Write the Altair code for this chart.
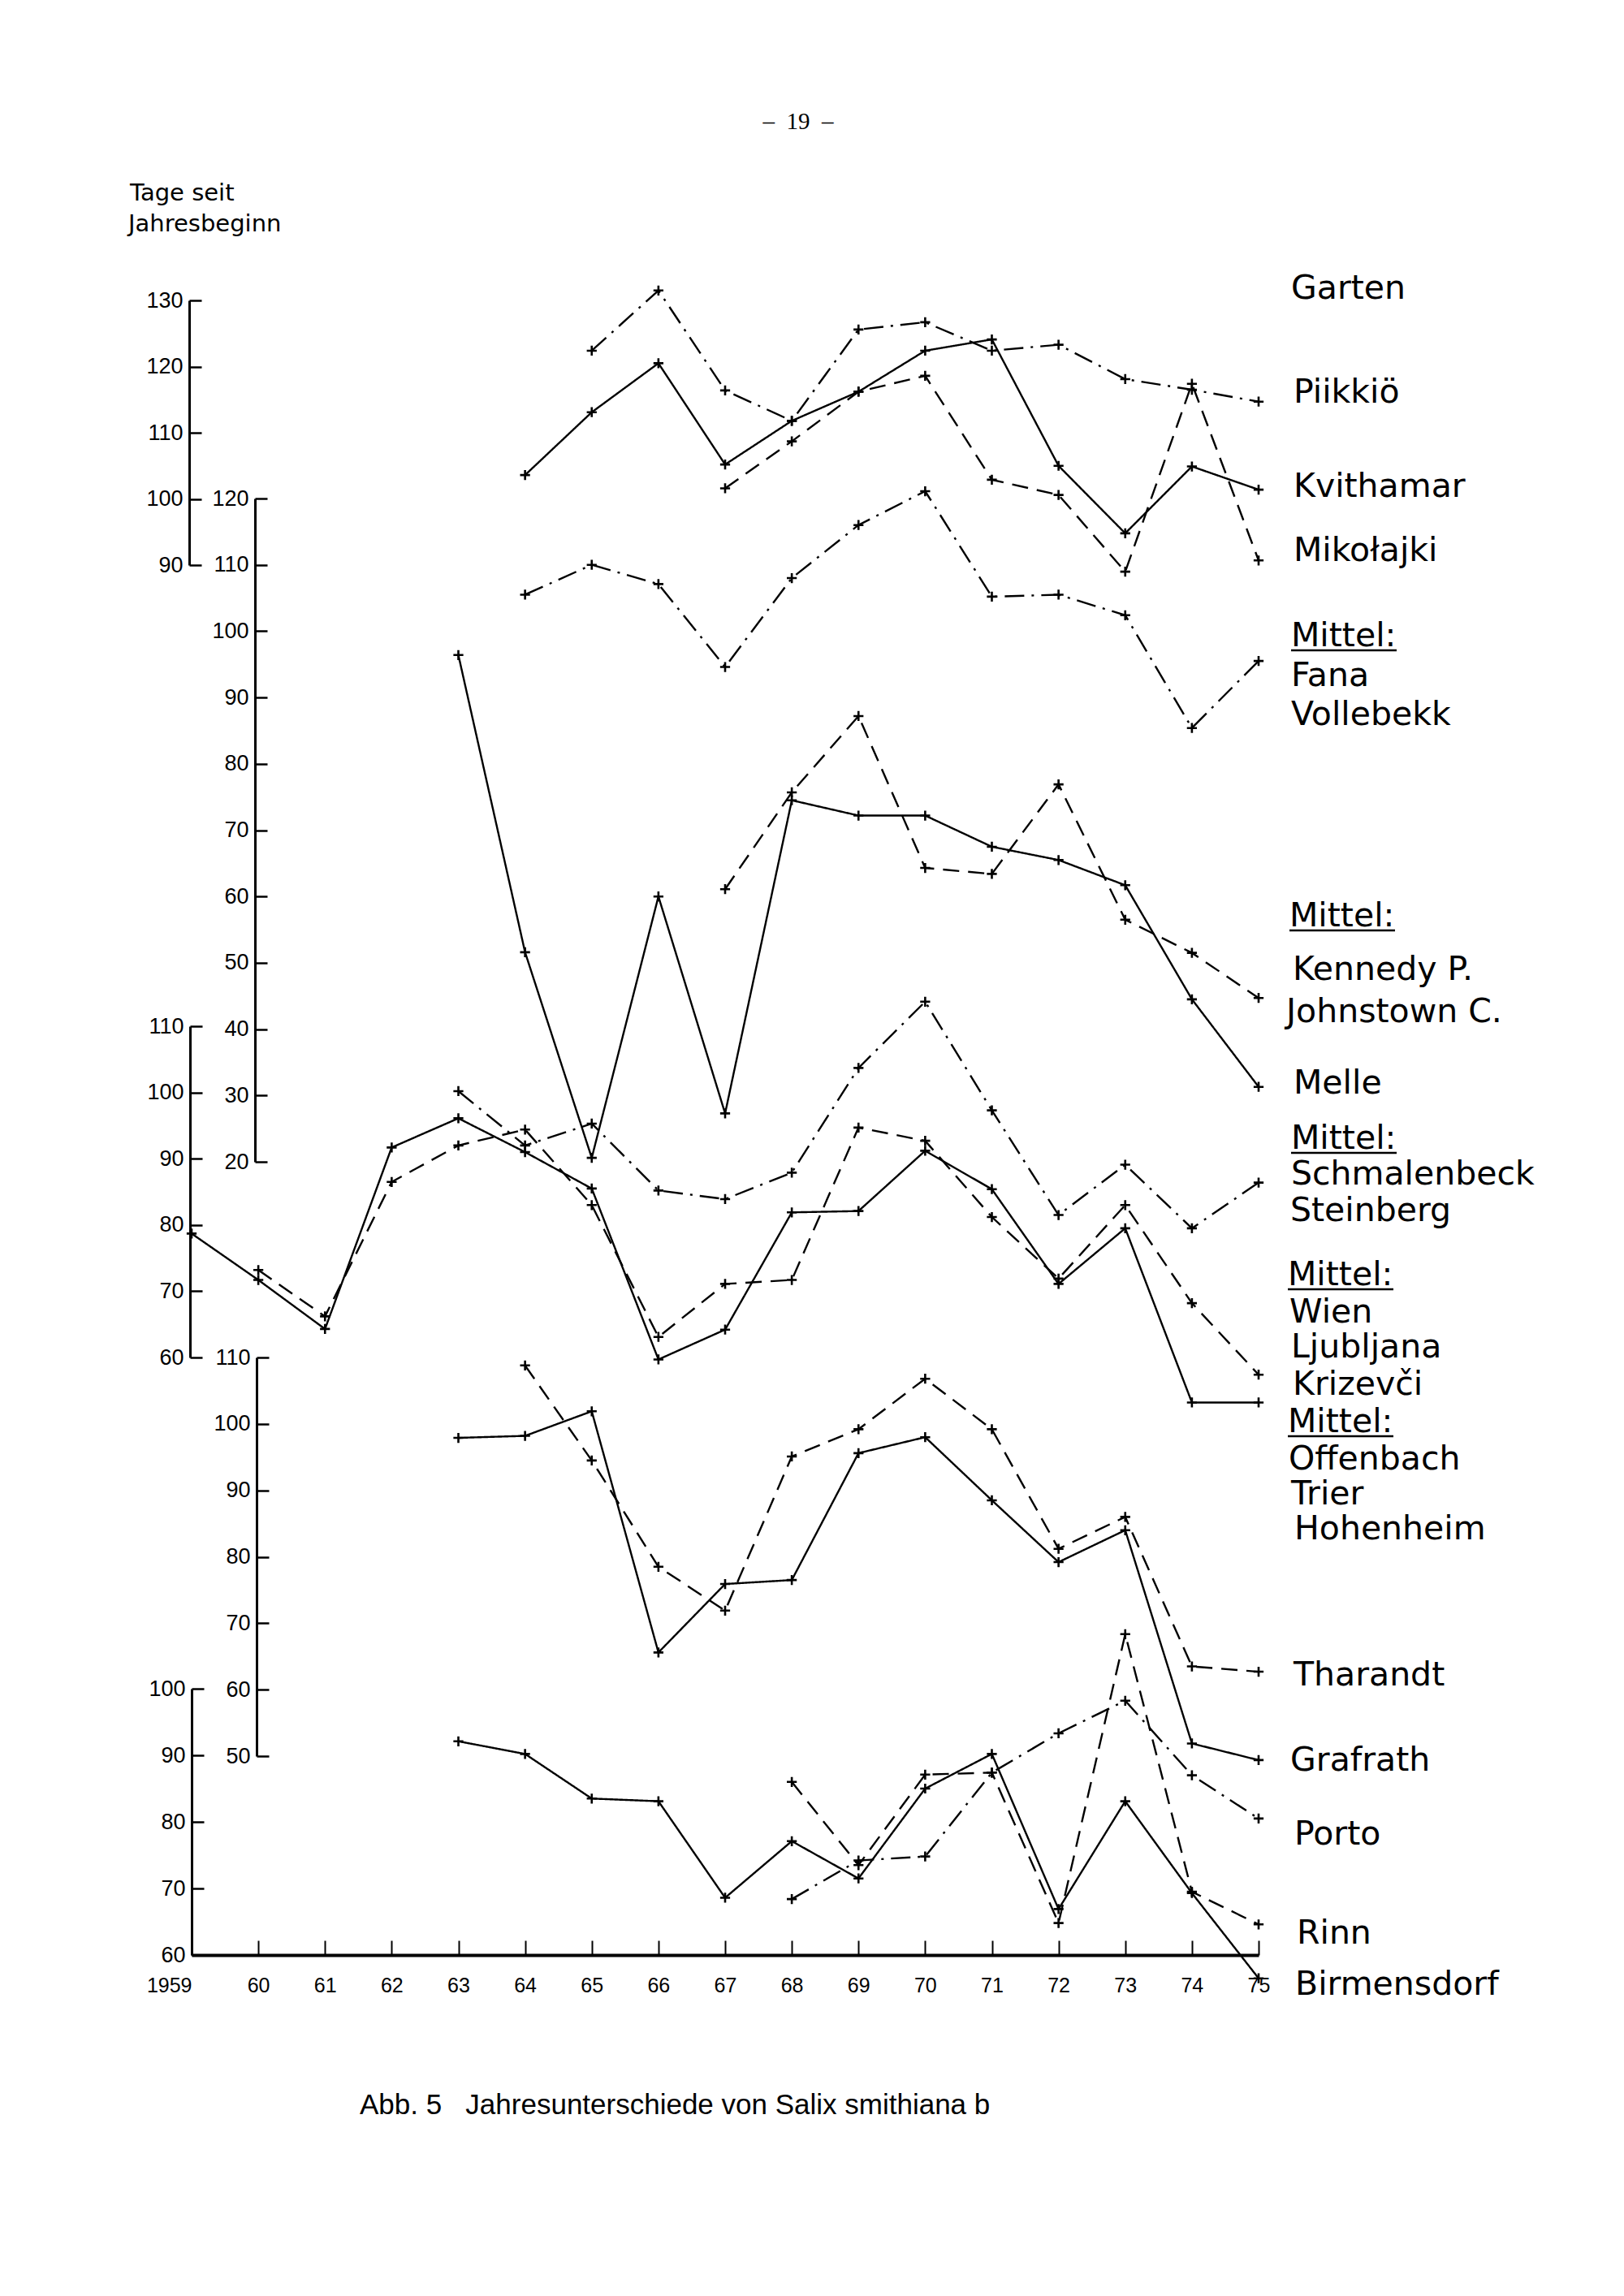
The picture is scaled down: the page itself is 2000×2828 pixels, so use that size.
import altair as alt
import pandas as pd

# ---------------- data (Tage seit Jahresbeginn) ----------------
# Panel A  (axis 90-130)
garten_years = list(range(1965, 1976))
garten_vals = [122.4, 131.5, 116.4, 111.8, 125.6, 126.7, 122.4, 123.3, 118.1, 116.5, 114.7]
kvithamar_years = list(range(1964, 1976))
kvithamar_vals = [103.6, 113.1, 120.5, 105.2, 111.8, 116.2, 122.4, 124.1, 105.0, 94.8, 104.9, 101.4]
mikolajki_years = list(range(1967, 1976))
mikolajki_vals = [101.6, 108.7, 116.2, 118.6, 102.9, 100.6, 89.0, 117.4, 90.7]

# Panel B  (axis 20-120)
fana_years = list(range(1964, 1976))
fana_vals = [105.5, 110.0, 107.1, 94.6, 108.0, 116.0, 121.1, 105.2, 105.5, 102.4, 85.4, 95.5]
melle_years = list(range(1963, 1976))
melle_vals = [96.4, 51.6, 20.6, 60.0, 27.3, 74.5, 72.2, 72.2, 67.5, 65.5, 61.7, 44.5, 31.3]
kennedy_years = list(range(1967, 1976))
kennedy_vals = [61.1, 75.7, 87.2, 64.3, 63.4, 76.9, 56.5, 51.5, 44.7]

# Panel C  (axis 60-110)
schmal_years = list(range(1963, 1976))
schmal_vals = [100.2, 92.0, 95.3, 85.2, 83.9, 87.9, 103.7, 113.7, 97.3, 81.5, 89.1, 79.5, 86.4]
wien_years = list(range(1960, 1976))
wien_vals = [73.2, 66.2, 86.5, 92.0, 94.4, 83.0, 63.1, 71.1, 71.7, 94.7, 92.7, 81.2, 71.9, 83.0, 68.2, 57.4]
offen_years = list(range(1959, 1976))
offen_vals = [78.7, 71.7, 64.3, 91.7, 96.1, 91.0, 85.5, 59.7, 64.2, 81.9, 82.1, 91.2, 85.4, 71.1, 79.5, 53.2, 53.2]

# Panel D  (axis 50-110)
tharandt_years = list(range(1964, 1976))
tharandt_vals = [108.8, 94.5, 78.5, 71.9, 95.1, 99.2, 106.8, 99.2, 81.2, 86.0, 63.5, 62.7]
grafrath_years = list(range(1963, 1976))
grafrath_vals = [97.9, 98.2, 101.9, 65.6, 75.9, 76.5, 95.6, 98.0, 88.5, 79.2, 84.0, 51.9, 49.4]

# Panel E  (axis 60-100)
porto_years = list(range(1968, 1976))
porto_vals = [68.4, 74.2, 74.8, 87.4, 93.3, 98.2, 87.0, 80.5]
rinn_years = list(range(1968, 1976))
rinn_vals = [86.0, 73.5, 87.1, 87.4, 64.8, 108.2, 69.5, 64.6]
birm_years = list(range(1963, 1976))
birm_vals = [92.1, 90.2, 83.5, 83.1, 68.6, 77.1, 71.5, 85.0, 90.2, 66.9, 83.1, 69.3, 56.5]

# right-hand labels
label_texts = ["Garten", "Piikkiö", "Kvithamar", "Mikołajki", "Mittel:", "Fana", "Vollebekk",
               "Mittel:", "Kennedy P.", "Johnstown C.", "Melle", "Mittel:", "Schmalenbeck",
               "Steinberg", "Mittel:", "Wien", "Ljubljana", "Krizevči", "Mittel:", "Offenbach",
               "Trier", "Hohenheim", "Tharandt", "Grafrath", "Porto", "Rinn", "Birmensdorf"]

NBSP = "\u00a0"
page_text = "–" + NBSP * 2 + "19" + NBSP * 2 + "–"
caption_text = "Abb. 5" + NBSP * 3 + "Jahresunterschiede von Salix smithiana b"
ytitle_lines = ["Tage seit", "Jahresbeginn"]

# ---------------- layout (page pixels) ----------------
W, H = 1314, 2108
LEFT, TOP = 236, 300
Y0, Y1 = 1959, 1975
PPY = W / (Y1 - Y0)


def yr(px):
    return Y0 + (px - LEFT) / PPY


label_x = [1590, 1593, 1593, 1593, 1590, 1590, 1590, 1588, 1592, 1584, 1593, 1590, 1590,
           1589, 1586, 1588, 1590, 1592, 1586, 1587, 1590, 1594, 1593, 1589, 1594, 1597, 1595]
label_base = [368, 496, 612, 691, 796, 845, 893, 1141, 1207, 1259, 1347, 1415, 1459,
              1504, 1583, 1629, 1672, 1718, 1764, 1810, 1853, 1896, 2076, 2181, 2272, 2394, 2457]

CROSS = "M-1,0L1,0M0,-1L0,1"

x_enc = alt.X(
    "year:Q",
    scale=alt.Scale(domain=[Y0, Y1], nice=False, zero=False),
    axis=alt.Axis(
        orient="top", offset=-H, values=list(range(Y0, Y1 + 1)), format="d",
        labelExpr="datum.value == 1959 ? datum.label : slice(datum.label, 2)",
        labelAlign=alt.condition("datum.value == 1959", alt.value("right"), alt.value("center")),
        tickSize=18, tickWidth=2, tickColor="black", domainWidth=4, domainColor="black",
        labelPadding=-43, labelBaseline="top", labelFlush=False, labelOverlap=False,
        labelFont="Liberation Sans", labelFontSize=25, labelColor="black",
        grid=False, title=None,
    ),
)

dash_scale = alt.Scale(domain=["solid", "dashed", "dashdot"],
                       range=[[1, 0], [20, 11], [24, 9, 3, 9]])


def frame(series):
    rows = []
    for name, style, years, vals in series:
        for yv, v in zip(years, vals):
            rows.append({"series": name, "style": style, "year": yv, "value": v})
    return pd.DataFrame(rows)


def panel(series, lo, hi, page_lo, page_hi, step, axis_px):
    df = frame(series)
    y = alt.Y(
        "value:Q",
        scale=alt.Scale(domain=[lo, hi], range=[page_lo - TOP, page_hi - TOP], nice=False, zero=False),
        axis=alt.Axis(
            orient="right", offset=(axis_px - LEFT) - W, values=list(range(lo, hi + 1, step)),
            tickSize=15, tickWidth=2.5, tickColor="black", domainWidth=3, domainColor="black",
            labelPadding=-23, labelAlign="right", labelBaseline="middle", labelFlush=False,
            labelOverlap=False, labelFont="Liberation Sans", labelFontSize=27, labelColor="black",
            grid=False, title=None,
        ),
    )
    lines = alt.Chart(df).mark_line(color="black", strokeWidth=2.4).encode(
        x=x_enc, y=y, detail="series:N",
        strokeDash=alt.StrokeDash("style:N", scale=dash_scale, legend=None),
    )
    pts = alt.Chart(df).mark_point(shape=CROSS, size=150, filled=False, color="black",
                                   strokeWidth=2.6, opacity=1).encode(x=x_enc, y=y)
    return alt.layer(lines, pts)


pA = panel([("Garten", "dashdot", garten_years, garten_vals),
            ("Kvithamar", "solid", kvithamar_years, kvithamar_vals),
            ("Mikołajki", "dashed", mikolajki_years, mikolajki_vals)],
           90, 130, 696, 370, 10, 233)
pB = panel([("Fana/Vollebekk", "dashdot", fana_years, fana_vals),
            ("Melle", "solid", melle_years, melle_vals),
            ("Kennedy P./Johnstown C.", "dashed", kennedy_years, kennedy_vals)],
           20, 120, 1431, 614, 10, 314)
pC = panel([("Schmalenbeck/Steinberg", "dashdot", schmal_years, schmal_vals),
            ("Wien/Ljubljana/Krizevči", "dashed", wien_years, wien_vals),
            ("Offenbach/Trier/Hohenheim", "solid", offen_years, offen_vals)],
           60, 110, 1672, 1264, 10, 234)
pD = panel([("Tharandt", "dashed", tharandt_years, tharandt_vals),
            ("Grafrath", "solid", grafrath_years, grafrath_vals)],
           50, 110, 2163, 1672, 10, 316)
pE = panel([("Porto", "dashdot", porto_years, porto_vals),
            ("Rinn", "dashed", rinn_years, rinn_vals),
            ("Birmensdorf", "solid", birm_years, birm_vals)],
           60, 100, 2408, 2080, 10, 236)

y_px = alt.Y("py:Q", scale=alt.Scale(domain=[0, H], range=[0, H]), axis=None)

lab_df = pd.DataFrame({
    "text": label_texts,
    "year": [yr(v) for v in label_x],
    "py": [v - TOP for v in label_base],
})
labels = alt.Chart(lab_df).mark_text(
    align="left", baseline="alphabetic", font="DejaVu Sans", fontSize=41, color="black"
).encode(x=x_enc, y=y_px, text="text:N")

ul_rows = [(label_x[i], label_base[i]) for i, t in enumerate(label_texts) if t == "Mittel:"]
ul_df = pd.DataFrame({
    "year": [yr(x) for x, b in ul_rows],
    "year2": [yr(x + 130) for x, b in ul_rows],
    "py": [b + 5 - TOP for x, b in ul_rows],
})
underline = alt.Chart(ul_df).mark_rule(color="black", strokeWidth=2.5).encode(
    x=x_enc, x2="year2:Q", y=y_px)

ytitle_df = pd.DataFrame({"text": ytitle_lines,
                          "year": [yr(160), yr(158)], "py": [247 - TOP, 285 - TOP]})
ytitle = alt.Chart(ytitle_df).mark_text(
    align="left", baseline="alphabetic", font="DejaVu Sans", fontSize=29, color="black"
).encode(x=x_enc, y=y_px, text="text:N")

page_df = pd.DataFrame({"text": [page_text], "year": [yr(983)], "py": [159 - TOP]})
pageno = alt.Chart(page_df).mark_text(
    align="center", baseline="alphabetic", font="Liberation Serif", fontSize=29, color="black"
).encode(x=x_enc, y=y_px, text="text:N")

cap_df = pd.DataFrame({"text": [caption_text], "year": [yr(443)], "py": [2604 - TOP]})
caption = alt.Chart(cap_df).mark_text(
    align="left", baseline="alphabetic", font="Liberation Sans", fontSize=35, color="black"
).encode(x=x_enc, y=y_px, text="text:N")

chart = alt.layer(pA, pB, pC, pD, pE, labels, underline, ytitle, pageno, caption).resolve_scale(
    y="independent"
).properties(
    width=W, height=H, autosize="none",
    padding={"left": LEFT - 8, "top": TOP - 8, "right": 430, "bottom": 320},
    background="white",
).configure_view(stroke=None)

chart.save("out.html", embed_options={"renderer": "svg", "actions": False})
